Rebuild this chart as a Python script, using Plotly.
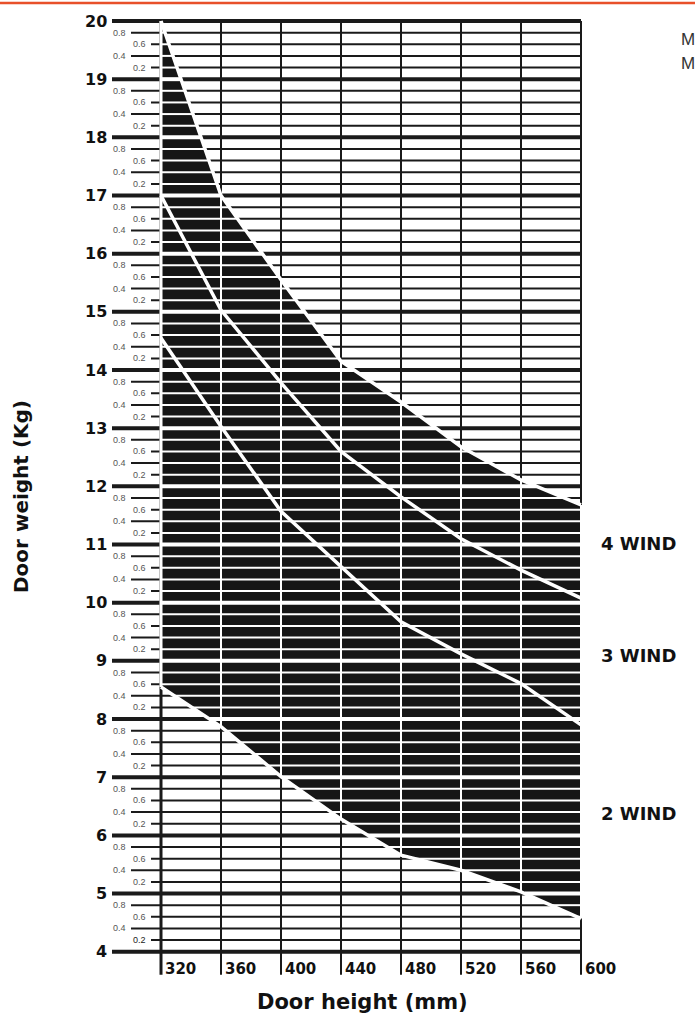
import numpy as np
import plotly.graph_objects as go

# Door height (mm) at which each curve is given
heights = [320, 360, 400, 440, 480, 520, 560, 600]

# Door weight (kg) limits read per door height
upper_limit = [20.0, 17.0, 15.55, 14.15, 13.45, 12.68, 12.11, 11.68]   # top of 4 WIND
wind_4_3 = [17.0, 15.03, 13.78, 12.6, 11.82, 11.1, 10.56, 10.08]      # 4 WIND / 3 WIND
wind_3_2 = [14.55, 13.03, 11.57, 10.62, 9.67, 9.12, 8.61, 7.9]        # 3 WIND / 2 WIND
lower_limit = [8.55, 7.87, 7.01, 6.28, 5.66, 5.4, 5.03, 4.57]         # bottom of 2 WIND

x_tick_values = [320, 360, 400, 440, 480, 520, 560, 600]
y_major_values = list(range(4, 21))
y_minor_labels = ["0.2", "0.4", "0.6", "0.8"]
zone_labels = ["4 WIND", "3 WIND", "2 WIND"]
zone_label_weights = [11.02, 9.10, 6.37]

# ---- canvas geometry (axis units per pixel) ----
W, H = 695, 1025
PX_X = 1.5            # pixels per mm
PX_Y = 58.17          # pixels per kg
X_LEFT = 320 - 161 / PX_X
X_RIGHT = X_LEFT + W / PX_X
Y_TOP = 20 + 21 / PX_Y
Y_BOTTOM = Y_TOP - H / PX_Y

DARK = "#161616"
GRID = "#1a1a1a"
X_MIN, X_MAX = heights[0], heights[-1]
Y_GRID_BOTTOM = 4 - 23 / PX_Y      # vertical lines run below the 4 kg line

hx = np.array(heights, float)
up = np.array(upper_limit, float)
lo = np.array(lower_limit, float)


def inside_x_range(level):
    """x-interval where a horizontal level lies inside the shaded band."""
    if level >= lo[0]:
        x0 = X_MIN
    else:
        x0 = float(np.interp(level, lo[::-1], hx[::-1]))
    if level <= up[-1]:
        x1 = X_MAX
    else:
        x1 = float(np.interp(level, up[::-1], hx[::-1]))
    return (x0, x1) if x1 > x0 else None


def tick_start(level):
    frac = round(level % 1, 1)
    if frac == 0:
        return 320 - 49 / PX_X
    if frac in (0.4, 0.8):
        return 320 - 30 / PX_X
    return 320 - 10 / PX_X


levels = [round(4 + 0.2 * k, 1) for k in range(81)]

fig = go.Figure()


def add_segments(segs, color, width):
    xs, ys = [], []
    for (xa, ya, xb, yb) in segs:
        xs += [xa, xb, None]
        ys += [ya, yb, None]
    fig.add_trace(go.Scatter(x=xs, y=ys, mode="lines", hoverinfo="skip",
                             line=dict(color=color, width=width), showlegend=False))


# black grid: horizontal lines with their left tick extensions
major_black = [(tick_start(v), v, X_MAX, v) for v in levels if round(v % 1, 1) == 0]
minor_black = [(tick_start(v), v, X_MAX, v) for v in levels if round(v % 1, 1) != 0]
add_segments(minor_black, GRID, 2)
add_segments(major_black, GRID, 4)
# black grid: vertical lines
add_segments([(x, Y_GRID_BOTTOM, x, 20) for x in x_tick_values[1:]], GRID, 2)
add_segments([(X_MIN, Y_GRID_BOTTOM, X_MIN, 20)], GRID, 3)

# shaded band between the lower and upper limits
fig.add_trace(go.Scatter(
    x=heights + heights[::-1], y=upper_limit + lower_limit[::-1],
    mode="lines", fill="toself", fillcolor=DARK, line=dict(width=0),
    hoverinfo="skip", showlegend=False))

# grid inside the band turns white
major_white, minor_white = [], []
for v in levels:
    rng = inside_x_range(v)
    if rng is None:
        continue
    seg = (rng[0], v, rng[1], v)
    (major_white if round(v % 1, 1) == 0 else minor_white).append(seg)
add_segments(minor_white, "white", 2)
add_segments(major_white, "white", 4)
vert_white = []
for x in x_tick_values:
    yl = float(np.interp(x, hx, lo))
    yu = float(np.interp(x, hx, up))
    vert_white.append((x, yl, x, yu))
add_segments(vert_white[1:], "white", 2)
add_segments(vert_white[:1], "white", 3)

# the zone curves
for curve in (upper_limit, wind_4_3, wind_3_2, lower_limit):
    fig.add_trace(go.Scatter(x=heights, y=curve, mode="lines", hoverinfo="skip",
                             line=dict(color="white", width=3.5), showlegend=False))

HEAVY = dict(family="DejaVu Sans, Liberation Sans, sans-serif", weight="bold", color="#111111")
ann = []

# y labels: integers and decimal subdivisions
for v in y_major_values:
    ann.append(dict(x=320 - 49 / PX_X, y=v, text=str(v), xanchor="right", yanchor="middle",
                    xshift=-3, showarrow=False, font=dict(HEAVY, size=16)))
for v in y_major_values[:-1]:
    for i, lab in enumerate(y_minor_labels):
        lvl = v + 0.2 * (i + 1)
        colour = "#222222" if (v == 4 and i == 0) else "#555555"
        ann.append(dict(x=tick_start(lvl), y=lvl, text=lab, xanchor="right", yanchor="middle",
                        xshift=-3, showarrow=False,
                        font=dict(family="Liberation Sans, Arial, sans-serif", size=9, color=colour)))

# x labels to the right of each vertical line
for x in x_tick_values:
    ann.append(dict(x=x, y=4 - 17.5 / PX_Y, text=str(x), xanchor="left", yanchor="middle",
                    xshift=2, showarrow=False, font=dict(HEAVY, size=15)))

# zone names
for lab, w in zip(zone_labels, zone_label_weights):
    ann.append(dict(x=X_MAX + 12, y=w, text=lab, xanchor="left", yanchor="middle",
                    showarrow=False, font=dict(HEAVY, size=18)))

# axis titles
ann.append(dict(x=362 / W, y=1 - 1002 / H, xref="paper", yref="paper", text="Door height (mm)",
                showarrow=False, xanchor="center", yanchor="middle", font=dict(HEAVY, size=21)))
ann.append(dict(x=21 / W, y=1 - 497 / H, xref="paper", yref="paper", text="Door weight (Kg)",
                textangle=-90, showarrow=False, xanchor="center", yanchor="middle",
                font=dict(HEAVY, size=20)))

# side note initials at the right edge
for ypx in (39, 63):
    ann.append(dict(x=679 / W, y=1 - ypx / H, xref="paper", yref="paper", text="M",
                    showarrow=False, xanchor="left", yanchor="middle",
                    font=dict(family="Liberation Sans, Arial, sans-serif", size=17, color="#333333")))

fig.update_layout(
    width=W, height=H, autosize=False,
    margin=dict(l=0, r=0, t=0, b=0, pad=0),
    paper_bgcolor="white", plot_bgcolor="white",
    xaxis=dict(range=[X_LEFT, X_RIGHT], visible=False, domain=[0, 1], fixedrange=True),
    yaxis=dict(range=[Y_BOTTOM, Y_TOP], visible=False, domain=[0, 1], fixedrange=True),
    annotations=ann,
    shapes=[dict(type="line", xref="paper", yref="paper", x0=0, x1=1,
                 y0=1 - 3 / H, y1=1 - 3 / H, line=dict(color="#E8502A", width=2.5))],
)

fig.write_html("out.html")
